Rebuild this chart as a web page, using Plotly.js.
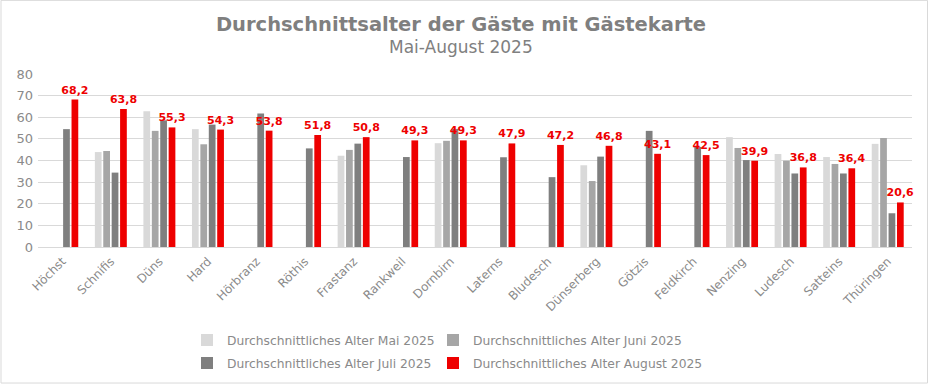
<!DOCTYPE html>
<html>
<head>
<meta charset="utf-8">
<script src="https://cdn.plot.ly/plotly-3.0.1.min.js"></script>
<style>
html,body{margin:0;padding:0;background:#fff;}
#chart{width:928px;height:384px;}
</style>
</head>
<body>
<div id="chart"></div>
<script>
const categories = ["Höchst","Schnifis","Düns","Hard","Hörbranz","Röthis","Frastanz","Rankweil","Dornbirn","Laterns","Bludesch","Dünserberg","Götzis","Feldkirch","Nenzing","Ludesch","Satteins","Thüringen"];
const alterMai    = [null, 43.9, 62.8, 54.5, null, null, 42.2, null, 48.0, null, null, 37.8, null, null, 50.8, 43.0, 41.6, 47.7];
const alterJuni   = [null, 44.4, 53.7, 47.5, null, null, 44.9, null, 49.1, null, null, 30.5, null, null, 45.8, 39.9, 38.4, 50.4];
const alterJuli   = [54.5, 34.4, 58.6, 56.6, 61.7, 45.6, 47.8, 41.6, 54.6, 41.5, 32.3, 41.8, 53.7, 46.3, 40.2, 34.0, 34.0, 15.6];
const alterAugust = [68.2, 63.8, 55.3, 54.3, 53.8, 51.8, 50.8, 49.3, 49.3, 47.9, 47.2, 46.8, 43.1, 42.5, 39.9, 36.8, 36.4, 20.6];
const seriesNames = ["Durchschnittliches Alter Mai 2025","Durchschnittliches Alter Juni 2025","Durchschnittliches Alter Juli 2025","Durchschnittliches Alter August 2025"];
const yTicks = [0,10,20,30,40,50,60,70,80];

const FONT = "DejaVu Sans, Verdana, sans-serif";
const GREY = "#8a8a8a";
const colors = ["#d9d9d9","#a6a6a6","#7f7f7f","#ee0000"];
const values = [alterMai, alterJuni, alterJuli, alterAugust];
const legendOf = ['legend','legend2','legend','legend2'];

const traces = values.map((v,i)=>({
  type:'bar', x:categories, y:v, name:seriesNames[i],
  marker:{color:colors[i]}, hoverinfo:'skip',
  legend:legendOf[i], legendgroup:'g'+i
}));
Object.assign(traces[3], {
  texttemplate:'%{y:.1f}', textposition:'outside', textangle:0,
  constraintext:'none', cliponaxis:false,
  textfont:{family:FONT, size:11, color:'#ee0000', weight:'bold'}
});

// plot area: x 38..912, y 74..246.7
const L=38, R=912, T=74, B=246.7;
const px = X => (X-L)/(R-L);
const py = Y => (B-Y)/(B-T);

const legendBase = {orientation:'v', xanchor:'left', yanchor:'top',
  font:{family:FONT, size:12.3, color:GREY}, itemwidth:30,
  traceorder:'grouped', tracegroupgap:4, bgcolor:'rgba(0,0,0,0)', borderwidth:0};

const layout = {
  width:928, height:384,
  margin:{l:L, r:928-R, t:T, b:384-B, pad:0, autoexpand:false},
  paper_bgcolor:'#fff', plot_bgcolor:'#fff',
  font:{family:FONT, size:12, color:GREY},
  separators:',.',
  barmode:'group', bargap:0.307, bargroupgap:0.2,
  title:{text:'<b>Durchschnittsalter der Gäste mit Gästekarte</b>',
    font:{family:FONT, size:19.5, color:'#7f7f7f'},
    x:461/928, xanchor:'center', y:1-24/384, yanchor:'middle', xref:'container', yref:'container'},
  annotations:[{text:'Mai-August 2025', showarrow:false, xref:'paper', yref:'paper',
    x:px(461), y:py(47), xanchor:'center', yanchor:'middle',
    font:{family:FONT, size:17, color:'#808080'}}],
  xaxis:{type:'category', tickangle:-45, showgrid:false, zeroline:false, showline:false,
    ticks:'', tickfont:{family:FONT, size:12, color:GREY}, ticklabelstandoff:4, fixedrange:true},
  yaxis:{range:[0,80], tickvals:yTicks, showgrid:true, gridcolor:'#d9d9d9', gridwidth:1,
    zeroline:true, zerolinecolor:'#d9d9d9', zerolinewidth:1, showline:false, ticks:'',
    tickfont:{family:FONT, size:13, color:GREY}, ticklabelstandoff:4, fixedrange:true},
  showlegend:true,
  legend:Object.assign({}, legendBase, {x:px(187), y:py(325)}),
  legend2:Object.assign({}, legendBase, {x:px(433), y:py(325)}),
  shapes:[{type:'rect', xref:'paper', yref:'paper', x0:px(1), x1:px(927.5), y0:py(382.5), y1:py(0.5),
    line:{color:'#d9d9d9', width:1}, fillcolor:'rgba(0,0,0,0)', layer:'below'}]
};

Plotly.newPlot('chart', traces, layout, {staticPlot:true, displayModeBar:false});
</script>
</body>
</html>
